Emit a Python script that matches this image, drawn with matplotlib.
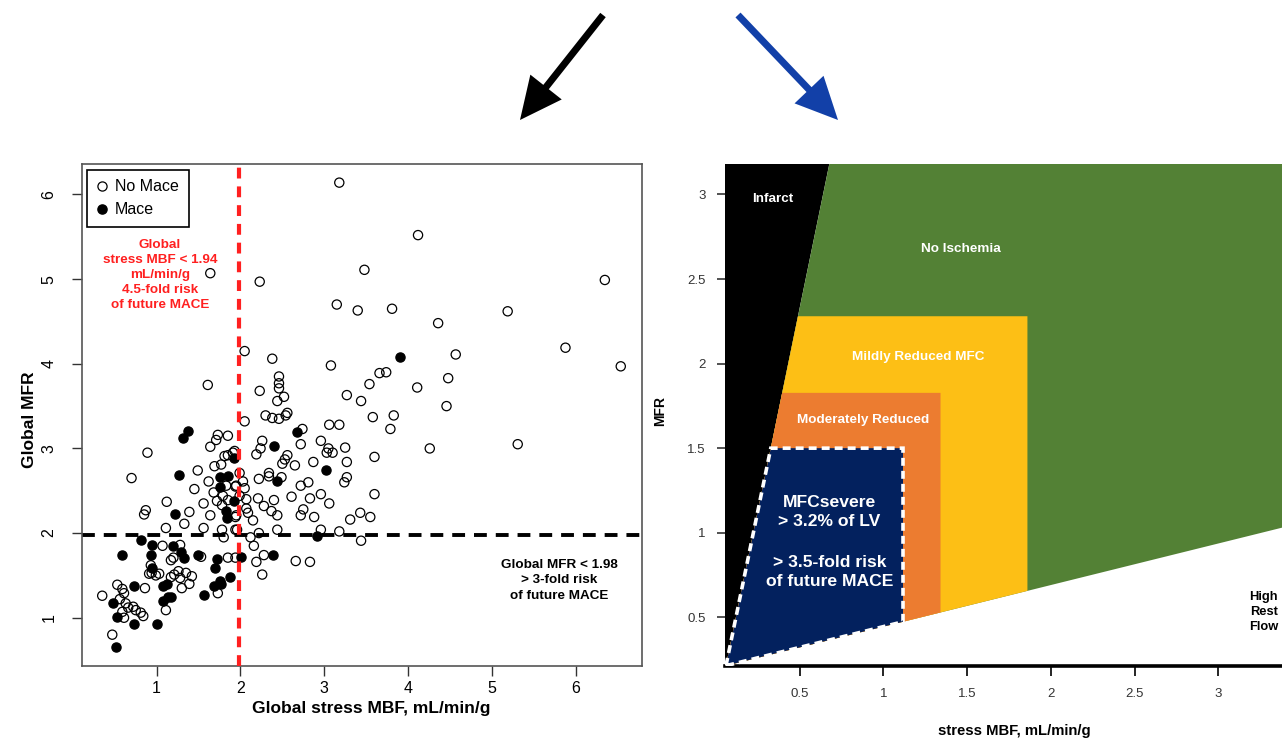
import numpy as np
import matplotlib
matplotlib.use('Agg')
import matplotlib.pyplot as plt
from matplotlib.patches import Polygon, FancyArrow
from matplotlib.lines import Line2D

plt.rcParams['font.family'] = ['Liberation Sans', 'DejaVu Sans']

# ---- left panel data: global stress MBF vs global MFR ----
no_mace = np.array([
    [3.18, 6.14], [4.12, 5.52], [3.48, 5.11], [1.64, 5.07], [2.23, 4.97], [6.35, 4.99],
    [3.15, 4.70], [3.40, 4.63], [3.81, 4.65], [5.19, 4.62], [4.36, 4.48], [2.05, 4.15],
    [2.38, 4.06], [3.08, 3.98], [4.57, 4.11], [5.88, 4.19], [6.54, 3.97], [1.61, 3.75],
    [2.23, 3.68], [2.46, 3.85], [2.46, 3.77], [2.46, 3.71], [2.52, 3.61], [2.44, 3.56],
    [3.54, 3.76], [3.66, 3.89], [3.74, 3.90], [4.11, 3.72], [4.48, 3.83], [4.46, 3.50],
    [3.27, 3.63], [3.44, 3.56], [3.58, 3.37], [3.83, 3.39], [3.79, 3.23], [3.06, 3.28],
    [3.18, 3.28], [5.31, 3.05], [4.26, 3.00], [3.60, 2.90], [3.25, 3.01], [3.27, 2.84],
    [3.27, 2.66], [3.24, 2.60], [3.03, 2.95], [3.05, 3.00], [3.10, 2.95], [2.96, 3.09],
    [2.87, 2.84], [2.72, 3.05], [2.81, 2.60], [2.72, 2.56], [2.74, 3.23], [2.65, 2.80],
    [2.56, 2.92], [2.53, 2.87], [2.50, 2.82], [2.26, 3.09], [2.24, 3.00], [2.19, 2.93],
    [2.30, 3.39], [2.38, 3.36], [2.46, 3.35], [2.54, 3.39], [2.56, 3.42], [2.05, 3.32],
    [2.22, 2.64], [2.34, 2.67], [2.34, 2.71], [2.49, 2.66], [1.99, 2.71], [2.03, 2.61],
    [3.60, 2.46], [2.96, 2.46], [3.06, 2.35], [2.83, 2.41], [2.61, 2.43], [2.40, 2.39],
    [2.21, 2.41], [2.28, 2.32], [2.37, 2.26], [2.44, 2.21], [2.75, 2.28], [2.72, 2.21],
    [2.88, 2.19], [3.31, 2.16], [3.43, 2.24], [3.55, 2.19], [2.07, 2.40], [2.07, 2.29],
    [2.09, 2.24], [1.95, 2.21], [2.15, 2.15], [1.95, 2.56], [2.05, 2.53], [1.99, 2.44],
    [1.93, 2.97],
    [1.73, 3.16], [1.71, 3.10], [1.85, 3.15], [1.64, 3.02], [0.89, 2.95], [1.91, 2.95],
    [1.85, 2.92], [1.81, 2.91], [1.69, 2.79], [1.77, 2.81], [1.49, 2.74], [0.70, 2.65],
    [1.62, 2.61], [1.45, 2.52], [1.83, 2.56], [1.94, 2.55], [1.68, 2.48], [1.79, 2.44],
    [1.72, 2.38], [1.85, 2.39], [1.78, 2.33], [1.56, 2.35], [1.64, 2.21], [1.39, 2.25],
    [1.12, 2.37], [0.87, 2.27], [0.85, 2.22], [1.94, 2.19],
    [1.11, 2.06], [1.33, 2.11], [1.56, 2.06], [1.78, 2.04], [1.94, 2.04], [1.80, 1.95],
    [1.07, 1.85], [1.28, 1.86], [1.53, 1.72], [1.20, 1.71], [1.17, 1.68], [1.85, 1.71],
    [1.94, 1.71], [0.93, 1.62], [0.94, 1.53], [1.03, 1.52], [0.99, 1.50], [0.91, 1.52],
    [1.26, 1.55], [1.35, 1.53], [1.42, 1.49], [1.28, 1.47], [1.39, 1.40], [1.30, 1.35],
    [1.17, 1.48], [1.21, 1.51], [0.86, 1.35], [1.73, 1.29], [1.11, 1.09], [0.35, 1.26],
    [0.53, 1.39], [0.59, 1.34], [0.61, 1.29], [0.56, 1.22], [0.63, 1.17], [0.66, 1.12],
    [0.72, 1.13], [0.75, 1.09], [0.81, 1.06], [0.84, 1.02], [0.59, 1.07], [0.61, 1.00],
    [0.47, 0.80],
    [1.96, 2.04], [2.22, 2.00], [2.12, 1.95], [2.44, 2.04], [2.16, 1.85], [2.96, 2.04],
    [3.18, 2.02], [3.44, 1.91], [2.28, 1.74], [2.19, 1.66], [2.66, 1.67], [2.83, 1.66],
    [2.26, 1.51],
])

mace = np.array([
    [3.91, 4.08], [3.02, 2.74], [2.67, 3.19], [2.40, 3.03], [2.44, 2.62], [1.37, 3.21],
    [1.32, 3.12], [1.92, 2.89], [1.27, 2.69], [1.76, 2.66], [1.85, 2.67], [1.75, 2.54],
    [1.92, 2.38], [1.83, 2.26], [1.84, 2.18], [1.22, 2.22], [0.81, 1.92], [0.94, 1.86],
    [1.19, 1.85], [1.29, 1.78], [1.33, 1.71], [0.59, 1.74], [0.93, 1.74], [1.49, 1.74],
    [1.72, 1.69], [1.70, 1.59], [0.95, 1.59], [1.87, 1.48], [1.07, 1.38], [1.12, 1.40],
    [1.08, 1.20], [1.13, 1.25], [1.17, 1.25], [0.73, 1.38], [1.68, 1.38], [1.75, 1.43],
    [1.77, 1.40], [1.56, 1.27], [0.48, 1.17], [0.53, 1.01], [0.73, 0.93], [1.00, 0.93],
    [0.51, 0.65], [2.91, 1.97], [2.01, 1.72], [2.39, 1.74],
])

mbf_cutoff = 1.98
mfr_cutoff = 1.98
left_ticks = [1, 2, 3, 4, 5, 6]

# ---- right panel data: flow capacity map ----
infarct_mbf = [0.06, 0.677]
infarct_mfr = [0.214, 3.18]
high_rest_mbf = [0.06, 3.38]
high_rest_mfr = [0.214, 1.03]
zone_names = ['Mildly Reduced MFC', 'Moderately Reduced', 'MFCsevere']
zone_mbf_max = [1.86, 1.341, 1.117]
zone_mfr_max = [2.28, 1.827, 1.5]
zone_colors = ['#FDBF15', '#EC7C30', '#03215E']
right_ticks = [0.5, 1, 1.5, 2, 2.5, 3]
right_xlim = (0.053, 3.38)
right_ylim = (0.214, 3.18)

W, H = 1282, 739
fig = plt.figure(figsize=(W / 100, H / 100), dpi=100)

# ------------------------------------------------------------------ left
ax1 = fig.add_axes([81.7 / W, 1 - 666 / H, 560 / W, 502 / H])
ax1.set_xlim(0.105, 6.79)
ax1.set_ylim(0.43, 6.36)

ax1.axhline(mfr_cutoff, color='black', lw=2.8, ls=(0, (3.3, 2.3)), zorder=2)
ax1.scatter(no_mace[:, 0], no_mace[:, 1], s=44, facecolors='none',
            edgecolors='black', linewidths=0.9, zorder=3)
ax1.scatter(mace[:, 0], mace[:, 1], s=44, c='black', edgecolors='black',
            linewidths=0.9, zorder=3)
ax1.axvline(mbf_cutoff, color='#FF2020', lw=3, ls=(0, (2.6, 1.9)), zorder=4)

ax1.set_xticks(left_ticks)
ax1.set_yticks(left_ticks)
ax1.set_yticklabels([str(t) for t in left_ticks], rotation=90, va='center')
ax1.tick_params(length=7, width=1, labelsize=11.5, color='#333333')
ax1.tick_params(axis='x', pad=4)
ax1.tick_params(axis='y', pad=11)
for sp in ax1.spines.values():
    sp.set_color('#555555')
    sp.set_linewidth(1.2)

ax1.text(1.04, 5.05, 'Global\nstress MBF < 1.94\nmL/min/g\n4.5-fold risk\nof future MACE',
         color='#FF2020', fontsize=9.7, fontweight='bold', ha='center', va='center',
         linespacing=1.35)
ax1.text(5.81, 1.44, 'Global MFR < 1.98\n> 3-fold risk\nof future MACE',
         color='black', fontsize=9.7, fontweight='bold', ha='center', va='center',
         linespacing=1.35)

handles = [Line2D([], [], ls='none', marker='o', ms=6.6, mfc='none', mec='black', mew=0.9),
           Line2D([], [], ls='none', marker='o', ms=6.6, mfc='black', mec='black')]
leg = ax1.legend(handles, ['No Mace', 'Mace'], loc='upper left', fontsize=11.5,
                 frameon=True, fancybox=False, edgecolor='black', framealpha=1,
                 borderaxespad=0.35, borderpad=0.6, handlelength=0.6,
                 handletextpad=0.55, labelspacing=0.5)
leg.get_frame().set_linewidth(1.2)

fig.text(371 / W, 1 - 709 / H, 'Global stress MBF, mL/min/g', fontsize=12.5,
         fontweight='bold', ha='center', va='center')
fig.text(30 / W, 1 - 420 / H, 'Global MFR', fontsize=12.5, fontweight='bold',
         ha='center', va='center', rotation=90)

# ------------------------------------------------------------------ right
ax2 = fig.add_axes([724.8 / W, 1 - 665.7 / H, (W - 724.8) / W, (665.7 - 164) / H])
ax2.set_xlim(*right_xlim)
ax2.set_ylim(*right_ylim)
x0, x1 = right_xlim
y0, y1 = right_ylim
cx, cy = infarct_mbf[0], infarct_mfr[0]

# infarct wedge
ax2.add_patch(Polygon([(x0, y0), (cx, cy), (infarct_mbf[1], y1), (x0, y1)],
                      closed=True, fc='black', ec='none', zorder=1))
# no ischemia
ax2.add_patch(Polygon([(cx, cy), (infarct_mbf[1], y1), (x1, y1),
                       (x1, np.interp(x1, high_rest_mbf, high_rest_mfr))],
                      closed=True, fc='#538135', ec='none', zorder=1))
# nested zones
for i, (mx, my, col) in enumerate(zip(zone_mbf_max, zone_mfr_max, zone_colors)):
    xl = np.interp(my, infarct_mfr, infarct_mbf)
    yb = np.interp(mx, high_rest_mbf, high_rest_mfr)
    pts = [(cx, cy), (xl, my), (mx, my), (mx, yb)]
    ax2.add_patch(Polygon(pts, closed=True, fc=col, ec='none', zorder=2 + i))
    if i == 2:
        ax2.add_patch(Polygon(pts, closed=True, fill=False, ec='white', lw=2.6,
                              ls=(0, (2.2, 1.4)), zorder=6))

lab = dict(color='white', fontweight='bold', ha='center', va='center', zorder=7)
ax2.text(0.34, 2.975, 'Infarct', fontsize=9.7, **lab)
ax2.text(1.46, 2.68, 'No Ischemia', fontsize=9.7, **lab)
ax2.text(1.207, 2.037, zone_names[0], fontsize=9.7, **lab)
ax2.text(0.878, 1.664, zone_names[1], fontsize=9.7, **lab)
ax2.text(0.678, 1.124, 'MFCsevere\n> 3.2% of LV', fontsize=12.6, linespacing=1.3, **lab)
ax2.text(0.678, 0.767, '> 3.5-fold risk\nof future MACE', fontsize=12.6, linespacing=1.3, **lab)
ax2.text(3.27, 0.53, 'High\nRest\nFlow', fontsize=9.3, color='black', fontweight='bold',
         ha='center', va='center', linespacing=1.35)

for s in ['top', 'right', 'left']:
    ax2.spines[s].set_visible(False)
ax2.spines['bottom'].set_linewidth(2.6)
ax2.spines['bottom'].set_color('black')
ax2.set_xticks(right_ticks)
ax2.set_yticks(right_ticks)
ax2.set_xticklabels(['0.5', '1', '1.5', '2', '2.5', '3'])
ax2.set_yticklabels(['0.5', '1', '1.5', '2', '2.5', '3'])
ax2.tick_params(axis='x', length=7.2, width=1.2, labelsize=9.5, pad=9, labelcolor='#333333')
ax2.tick_params(axis='y', length=5.8, width=1.2, labelsize=9.5, pad=8, labelcolor='#333333',
                color='#333333')

fig.text(1014 / W, 1 - 731 / H, 'stress MBF, mL/min/g', fontsize=10.7,
         fontweight='bold', ha='center', va='center')
fig.text(660 / W, 1 - 411 / H, 'MFR', fontsize=10, fontweight='bold',
         ha='center', va='center', rotation=90)

# ------------------------------------------------------------------ arrows
ax0 = fig.add_axes([0, 0, 1, 1], zorder=-1)
ax0.set_xlim(0, W)
ax0.set_ylim(H, 0)
ax0.set_axis_off()
arrow_kw = dict(width=7, head_width=40, head_length=42, length_includes_head=True, lw=0)
ax0.add_patch(FancyArrow(603, 15, 520 - 603, 120 - 15, color='black', **arrow_kw))
ax0.add_patch(FancyArrow(738, 15, 838 - 738, 120 - 15, color='#1240A8', **arrow_kw))

fig.savefig('out.png', dpi=100, facecolor='white')
